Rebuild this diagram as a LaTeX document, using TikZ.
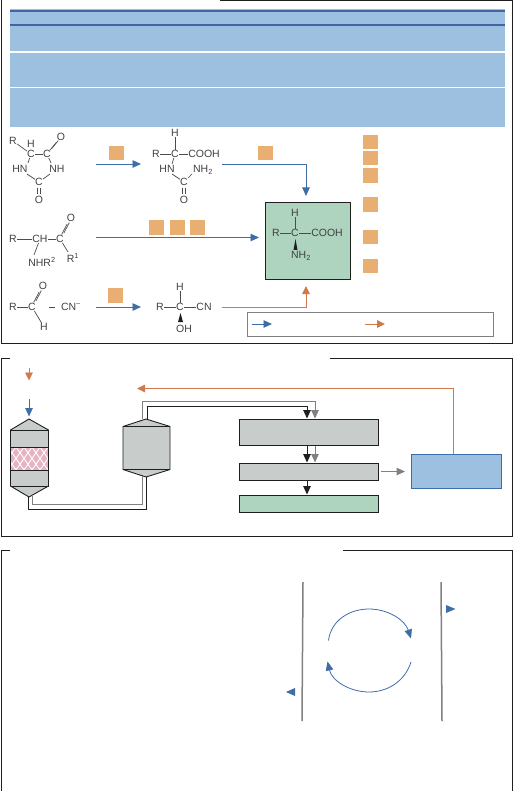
\documentclass[tikz,border=0pt]{standalone}
\usepackage{fontspec}
\setmainfont{Liberation Sans}
\usetikzlibrary{arrows.meta,shapes.geometric}
\definecolor{bandblue}{HTML}{9DC0E1}
\definecolor{darkband}{HTML}{3F65A5}
\definecolor{tagorange}{HTML}{E8AE72}
\definecolor{flowblue}{HTML}{3E6DA8}
\definecolor{floworange}{HTML}{D2784A}
\definecolor{prodgreen}{HTML}{AED3BE}
\definecolor{vesselgray}{HTML}{C8CCCB}
\definecolor{ink}{HTML}{1E2020}
\definecolor{hatchpink}{HTML}{E6B3C2}
\newcommand{\dblbond}[4]{%
  \draw[bond,shorten >=6pt,shorten <=6pt] ([xshift=#3pt,yshift=#4pt]#1.center) -- ([xshift=#3pt,yshift=#4pt]#2.center);
  \draw[bond,shorten >=6pt,shorten <=6pt] ([xshift=-#3pt,yshift=-#4pt]#1.center) -- ([xshift=-#3pt,yshift=-#4pt]#2.center);}
\tikzset{
  frame/.style={draw=ink,line width=1pt},
  tag/.style={fill=tagorange,draw=none,minimum width=15pt,minimum height=14.5pt,inner sep=0pt},
  chem/.style={inner sep=0pt,font=\fontsize{10.5}{12}\selectfont,text=ink!85},
  bond/.style={draw=ink!80,line width=0.7pt},
  wedge/.style={fill=ink,draw=none},
  blueflow/.style={draw=flowblue,line width=0.9pt,-{Triangle[length=8.5pt,width=7.5pt]}},
  orangeflow/.style={draw=floworange,line width=0.9pt,-{Triangle[length=8pt,width=7.5pt]}},
  blackflow/.style={draw=ink,line width=1pt,-{Triangle[length=8.5pt,width=7.5pt]}},
  grayflow/.style={draw=gray,line width=1pt,-{Triangle[length=8.5pt,width=7.5pt]}},
  vbox/.style={draw=ink,line width=0.9pt,fill=vesselgray,inner sep=0pt},
}
\begin{document}
\begin{tikzpicture}[x=1pt,y=-1pt]
\useasboundingbox (0,0) rectangle (513,791);
% frames
\draw[frame] (220,0.5) -- (512,0.5) -- (512,343) -- (1,343) -- (1,0) -- (10,0);
\draw[frame] (330,358) -- (512.5,358) -- (512.5,536) -- (1,536) -- (1,358) -- (10,358);
\draw[frame] (343,550) -- (512,550) -- (512,791);
\draw[frame] (10,550) -- (1,550) -- (1,791);
% band
\fill[bandblue] (9.5,9) rectangle (505,127);
\draw[darkband,line width=1.2pt] (9.5,11) -- (505,11);
\draw[darkband,line width=1.2pt] (9.5,25) -- (505,25);
\draw[white,line width=1.3pt] (9.5,52) -- (505,52);
\draw[white,line width=1.3pt] (9.5,87.5) -- (505,87.5);
% tags
\node[tag] (t1) at (116.5,153) {};
\node[tag] (t2) at (265.5,153) {};
\node[tag] (t3) at (156.5,227.5) {};
\node[tag] (t4) at (177.5,227.5) {};
\node[tag] (t5) at (197.5,227.5) {};
\node[tag] (t6) at (115.5,295.5) {};
\node[tag] (r1) at (370,142) {};
\node[tag] (r2) at (370,158) {};
\node[tag] (r3) at (370,175.5) {};
\node[tag] (r4) at (370,204.5) {};
\node[tag] (r5) at (370,237) {};
\node[tag] (r6) at (370,266) {};
% hydantoin
\node[chem] (a1) at (13,141) {R};
\node[chem] (a2) at (31,144) {H};
\node[chem] (a3) at (31,154) {C};
\node[chem] (a4) at (47,154) {C};
\node[chem] (a5) at (61,137) {O};
\node[chem] (a6) at (20,169) {HN};
\node[chem] (a7) at (57,169) {NH};
\node[chem] (a8) at (39,182) {C};
\node[chem] (a9) at (39,200) {O};
\draw[bond] (a1) -- (a3);
\draw[bond] (a3) -- (a4);
\draw[bond] (a3) -- (28,163);
\draw[bond] (a4) -- (51,163);
\dblbond{a4}{a5}{1}{1}
\draw[bond] (27,174) -- (a8);
\draw[bond] (a8) -- (50,174);
\dblbond{a8}{a9}{1.3}{0}
% carbamoyl acid
\node[chem] (b1) at (156,154) {R};
\node[chem] (b2) at (175,133) {H};
\node[chem] (b3) at (175,154) {C};
\node[chem] (b4) at (204,154) {COOH};
\node[chem] (b5) at (167,169) {HN};
\node[chem] (b6) at (203,170) {NH\textsubscript{2}};
\node[chem] (b7) at (184,182) {C};
\node[chem] (b8) at (184,200) {O};
\draw[bond] (b1) -- (b3);
\draw[bond] (b2) -- (b3);
\draw[bond] (b3) -- (b4);
\draw[bond] (b3) -- (172,164);
\draw[bond] (172,174) -- (b7);
\draw[bond] (b7) -- (192,174);
\dblbond{b7}{b8}{1.3}{0}
% amide
\node[chem] (c1) at (13,239) {R};
\node[chem] (c2) at (40,239) {CH};
\node[chem] (c3) at (60,239) {C};
\node[chem] (c4) at (71,218) {O};
\node[chem] (c5) at (42,262) {NHR\textsuperscript{2}};
\node[chem] (c6) at (73,258) {R\textsuperscript{1}};
\draw[bond] (c1) -- (c2);
\draw[bond] (c2) -- (c3);
\dblbond{c3}{c4}{1.1}{0.7}
\draw[bond] (c2) -- (34,255);
\draw[bond] (c3) -- (68,252);
% aldehyde
\node[chem] (d1) at (13,307) {R};
\node[chem] (d2) at (32,307) {C};
\node[chem] (d3) at (43,286) {O};
\node[chem] (d4) at (44,327) {H};
\node[chem] (d5) at (71,307) {CN\textsuperscript{−}};
\coordinate (d6) at (49,307);
\coordinate (d7) at (55,307);
\draw[bond] (d1) -- (d2);
\dblbond{d2}{d3}{1.1}{0.7}
\draw[bond] (d2) -- (d4);
\draw[bond] (d6) -- (d7);
% cyanohydrin
\node[chem] (e1) at (160,307) {R};
\node[chem] (e2) at (180,307) {C};
\node[chem] (e3) at (180,287) {H};
\node[chem] (e4) at (204,307) {CN};
\node[chem] (e5) at (184,329) {OH};
\draw[bond] (e1) -- (e2);
\draw[bond] (e3) -- (e2);
\draw[bond] (e2) -- (e4);
\fill[wedge] (180.5,313) -- (183,322) -- (178,322) -- cycle;
% product
\node[draw=ink,line width=1pt,fill=prodgreen,minimum width=84.5pt,minimum height=76pt,inner sep=0pt] (prod) at (307.75,241) {};
\node[chem] (p1) at (276,233) {R};
\node[chem] (p2) at (295,233) {C};
\node[chem] (p3) at (295,213) {H};
\node[chem] (p4) at (327,233) {COOH};
\node[chem] (p5) at (301,256) {NH\textsubscript{2}};
\draw[bond] (p1) -- (p2);
\draw[bond] (p3) -- (p2);
\draw[bond] (p2) -- (p4);
\fill[wedge] (295.5,239) -- (297.5,250) -- (293.5,250) -- cycle;
% reaction arrows
\coordinate (s1) at (96,164); \coordinate (s1e) at (141,164);
\coordinate (s2) at (222,164); \coordinate (s2e) at (306,196);
\coordinate (s3) at (96,237.5); \coordinate (s3e) at (259,237.5);
\coordinate (s4) at (96,307); \coordinate (s4e) at (141,307);
\coordinate (s5) at (222,307); \coordinate (s5e) at (306,286);
\draw[blueflow] (s1) -- (s1e);
\draw[blueflow] (s2) -| (s2e);
\draw[blueflow] (s3) -- (s3e);
\draw[blueflow] (s4) -- (s4e);
\draw[orangeflow] (s5) -| (s5e);
% legend
\node[draw=gray,line width=0.8pt,minimum width=246.5pt,minimum height=24pt,inner sep=0pt] (leg) at (370.25,324) {};
\coordinate (l1) at (252,324); \coordinate (l1e) at (272,324);
\coordinate (l2) at (365,324); \coordinate (l2e) at (385,324);
\draw[blueflow] (l1) -- (l1e);
\draw[orangeflow] (l2) -- (l2e);
% panel 2 feeds
\coordinate (f1) at (29,368); \coordinate (f1e) at (29,380.5);
\coordinate (f2) at (29,399); \coordinate (f2e) at (29,416.5);
\draw[orangeflow] (f1) -- (f1e);
\draw[blueflow] (f2) -- (f2e);
% column 1
\fill[vesselgray] (29,419) -- (48.5,430) -- (48.5,486) -- (29,497) -- (10.5,486) -- (10.5,430) -- cycle;
\fill[hatchpink] (10.5,447) rectangle (48.5,470);
\begin{scope}
\clip (10.5,447) rectangle (48.5,470);
\foreach \i in {-40,-32,...,70} {
  \draw[white,line width=0.9pt] (\i,447) -- (\i+16,470);
  \draw[white,line width=0.9pt] (\i+16,447) -- (\i,470);
}
\end{scope}
\draw[ink,line width=0.9pt] (29,419) -- (48.5,430) -- (48.5,486) -- (29,497) -- (10.5,486) -- (10.5,430) -- cycle;
\draw[ink,line width=0.9pt] (10.5,430) -- (48.5,430);
\draw[ink,line width=0.9pt] (10.5,447) -- (48.5,447);
\draw[ink,line width=0.9pt] (10.5,470) -- (48.5,470);
\draw[ink,line width=0.9pt] (10.5,486) -- (48.5,486);
% vessel 2
\fill[vesselgray] (146,419) -- (170,426.5) -- (170,469.5) -- (146,477) -- (123,469.5) -- (123,426.5) -- cycle;
\draw[ink,line width=0.9pt] (146,419) -- (170,426.5) -- (170,469.5) -- (146,477) -- (123,469.5) -- (123,426.5) -- cycle;
\draw[ink,line width=0.9pt] (123,426.5) -- (170,426.5);
\draw[ink,line width=0.9pt] (123,469.5) -- (170,469.5);
% process boxes
\node[vbox,minimum width=138.5pt,minimum height=26pt] (b-a) at (308.75,432.5) {};
\node[vbox,minimum width=138.5pt,minimum height=17pt] (b-b) at (308.75,471.5) {};
\node[vbox,fill=prodgreen,minimum width=138.5pt,minimum height=16.5pt] (b-c) at (308.75,503.75) {};
\node[draw=flowblue,line width=0.9pt,fill=bandblue,minimum width=90.5pt,minimum height=34.5pt,inner sep=0pt] (b-d) at (456.25,471.25) {};
% pipes
\coordinate (v1a) at (28,497); \coordinate (v1b) at (32,495);
\coordinate (v2a) at (146.5,477); \coordinate (v2b) at (142,476);
\coordinate (v2c) at (147,419); \coordinate (v2d) at (142,419);
\coordinate (i1) at (307,418.5); \coordinate (i2) at (315,418.5);
\draw[ink,line width=1pt] (v1a) -- (28,509) -- (146.5,509) -- (v2a);
\draw[gray,line width=1pt] (v1b) -- (32,504.5) -- (142,504.5) -- (v2b);
\draw[grayflow] (v2d) -- (142,401.5) -- (315,401.5) -- (i2);
\draw[blackflow] (v2c) -- (147,406.5) -- (307,406.5) -- (i1);
\coordinate (m1) at (307,446); \coordinate (m1e) at (307,462.5);
\coordinate (m2) at (315,446); \coordinate (m2e) at (315,462.5);
\coordinate (m3) at (307,480.5); \coordinate (m3e) at (307,494.5);
\draw[blackflow] (m1) -- (m1e);
\draw[grayflow] (m2) -- (m2e);
\draw[blackflow] (m3) -- (m3e);
\coordinate (h1) at (381,471.5); \coordinate (h1e) at (405,471.5);
\draw[grayflow] (h1) -- (h1e);
\coordinate (rt) at (453,454); \coordinate (rte) at (137,388.5);
\draw[orangeflow] (rt) |- (rte);
% panel 3
\coordinate (g1) at (303,582); \coordinate (g1e) at (302,721);
\coordinate (g2) at (441,582); \coordinate (g2e) at (442,721);
\draw[gray,line width=1.5pt] (g1) -- (g1e);
\draw[gray,line width=1.5pt] (g2) -- (g2e);
\draw[flowblue,line width=0.8pt,-{Triangle[length=9pt,width=7.5pt]}] (328.5,640.5) .. controls (331,620) and (350,609) .. (369,609) .. controls (388,609) and (405,620) .. (411,638.5);
\draw[flowblue,line width=0.8pt,-{Triangle[length=9pt,width=7.5pt]}] (411,662) .. controls (405,681) and (388,692) .. (369,692) .. controls (350,692) and (332,681) .. (327.5,661.5);
\fill[flowblue] (446,605) -- (455.5,609) -- (446,613) -- cycle;
\fill[flowblue] (295,688) -- (286,692) -- (295,696) -- cycle;
\end{tikzpicture}
\end{document}
